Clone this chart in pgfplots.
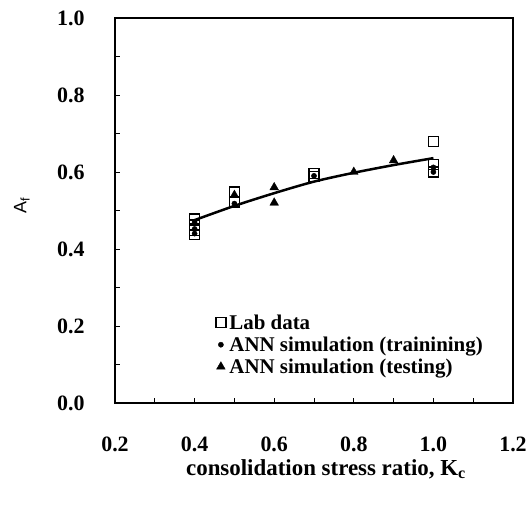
\documentclass[border=0pt]{standalone}
\usepackage{pgfplots}
\pgfplotsset{compat=1.18}
\usepackage{fontspec}
\setmainfont{Liberation Serif}
\newfontfamily\sansf{Liberation Sans}
\begin{document}
\begin{tikzpicture}
\begin{axis}[
  scale only axis, width=398bp, height=385bp,
  xmin=0.2, xmax=1.2, ymin=0, ymax=1,
  xtick={0.2,0.4,0.6,0.8,1.0,1.2},
  xticklabels={0.2,0.4,0.6,0.8,1.0,1.2},
  minor xtick={0.3,0.5,0.7,0.9,1.1},
  ytick={0,0.2,0.4,0.6,0.8,1.0},
  yticklabels={0.0,0.2,0.4,0.6,0.8,1.0},
  minor ytick={0.1,0.3,0.5,0.7,0.9},
  tick align=inside, tick pos=left,
  major tick length=5bp, minor tick length=5bp,
  axis line style={line width=1.3bp},
  every tick/.style={line width=0.8bp, black},
  ticklabel style={font=\fontsize{22}{25}\selectfont\bfseries},
  yticklabel style={anchor=east, xshift=-27bp},
  xticklabel style={anchor=north, yshift=-30bp},
  xlabel={consolidation stress ratio, K\textsubscript{c}},
  xlabel style={font=\fontsize{23}{26}\selectfont\bfseries, at={(rel axis cs:0.53,-0.172)}, anchor=center},
  ylabel={\sansf A\textsubscript{f}},
  ylabel style={font=\fontsize{18}{20}\selectfont, at={(rel axis cs:-0.234,0.514)}, anchor=center},
  legend style={at={(rel axis cs:0.253,0.235)}, anchor=north west, draw=none, fill=none,
    font=\fontsize{21}{24}\selectfont\bfseries, row sep=2bp, inner sep=0pt,
    nodes={inner xsep=3.5bp}},
  legend cell align=left,
]
\addplot[line width=2.5bp, smooth, forget plot] coordinates {
  (0.4,0.475) (0.5,0.512) (0.6,0.545) (0.7,0.575) (0.8,0.598) (0.9,0.618) (1.0,0.636)};
\addplot[only marks, mark=square, mark size=5bp, mark options={line width=1.3bp}] coordinates {
  (0.4,0.478) (0.4,0.462) (0.4,0.448) (0.4,0.438)
  (0.5,0.548) (0.5,0.522)
  (0.7,0.597) (0.7,0.588)
  (1.0,0.680) (1.0,0.620) (1.0,0.600)};
\addplot[only marks, mark=*, mark size=2.6bp] coordinates {
  (0.4,0.470) (0.4,0.452) (0.4,0.440)
  (0.5,0.518)
  (0.7,0.590)
  (1.0,0.612) (1.0,0.600)};
\addplot[only marks, mark=triangle*, mark size=5bp] coordinates {
  (0.5,0.540) (0.6,0.560) (0.6,0.520) (0.8,0.600) (0.9,0.630)};
\legend{Lab data, ANN simulation (trainining), ANN simulation (testing)}
\end{axis}
\pgfresetboundingbox
\path ([shift={(-115bp,-102bp)}]current axis.south west) rectangle ([shift={(14bp,18bp)}]current axis.north east);
\end{tikzpicture}
\end{document}
